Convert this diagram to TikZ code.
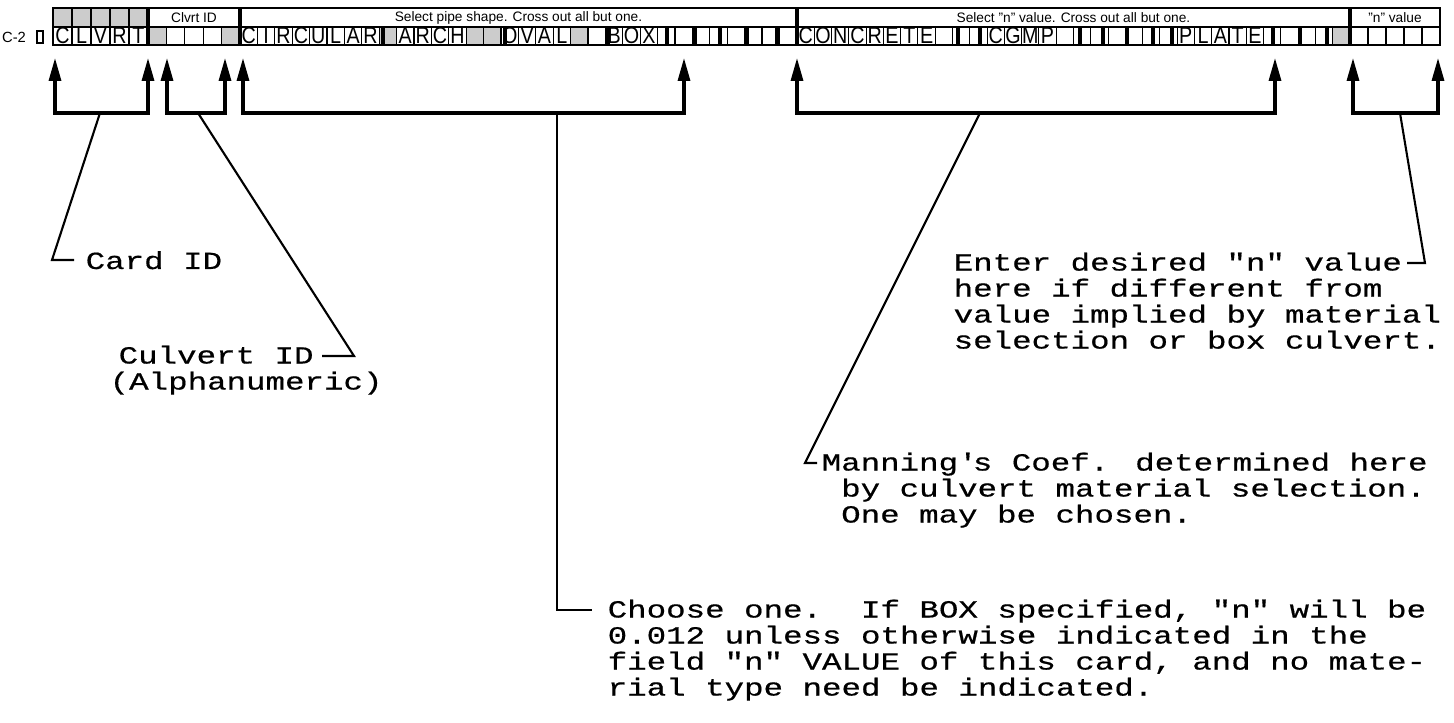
\documentclass[tikz,border=0pt]{standalone}
\usepackage{fontspec}
\setsansfont{Liberation Sans}
\newfontfamily\twfont{Liberation Mono}[FakeStretch=1.32, FakeBold=0.6]
\newfontfamily\punchfont{Liberation Sans}[FakeStretch=0.85]
\usetikzlibrary{arrows.meta}

\begin{document}
\begin{tikzpicture}[
  cardedge/.style={line width=0.8pt},
  cellline/.style={line width=0.3pt},
  fieldline/.style={line width=0.9pt},
  shade/.style={fill=gray!40, draw=none},
  head/.style={font=\sffamily\fontsize{3.9}{4}\selectfont, inner sep=0pt},
  cellch/.style={font=\punchfont\fontsize{6.6}{6.6}\selectfont, inner sep=0pt},
  brk/.style={{Triangle[length=6.5pt,width=3.4pt]}-{Triangle[length=6.5pt,width=3.4pt]},
              line width=0.9pt},
  lead/.style={line width=0.6pt},
  txt/.style={font=\twfont\fontsize{7}{7.4}\selectfont, align=left, inner sep=0pt}
]
  \useasboundingbox (0,0) rectangle (14.54,-7.23);

  % Card: shaded cells
  \foreach \i in {0,...,4}
    \fill[shade] ({0.53+0.19*\i},-0.08) rectangle ++(0.19,-0.19);
  \foreach \x in {1.48,2.216}
    \fill[shade] (\x,-0.27) rectangle ++(0.184,-0.18);
  \foreach \i in {8,13,14,19}
    \fill[shade] ({2.40+0.174*\i},-0.27) rectangle ++(0.174,-0.18);
  \fill[shade] ({7.97+0.1728*31},-0.27) rectangle ++(0.1728,-0.18);

  % Card: cell lines
  \draw[cellline] (0.53,-0.27) -- (14.40,-0.27);
  \foreach \i in {1,...,4}
    \draw[cellline] ({0.53+0.19*\i},-0.08) -- ++(0,-0.37);
  \foreach \i in {1,...,4}
    \draw[cellline] ({1.48+0.184*\i},-0.27) -- ++(0,-0.18);
  \foreach \i in {1,...,31}
    \draw[cellline] ({2.40+0.174*\i},-0.27) -- ++(0,-0.18);
  \foreach \i in {1,...,31}
    \draw[cellline] ({7.97+0.1728*\i},-0.27) -- ++(0,-0.18);
  \foreach \i in {1,...,4}
    \draw[cellline] ({13.50+0.18*\i},-0.27) -- ++(0,-0.18);
  \foreach \x in {3.83,5.05,6.08,6.67,6.95,7.20,7.47,7.77,9.58,9.80,
                  10.80,11.03,11.27,11.53,11.72,12.73,13.00,13.27}
    \draw[fieldline] (\x,-0.27) -- ++(0,-0.18);
  \foreach \x in {1.48,2.40,7.97,13.50}
    \draw[fieldline] (\x,-0.08) -- ++(0,-0.37);
  \draw[cardedge] (0.53,-0.08) rectangle (14.40,-0.45);

  % Card: headings
  \node[head] (hcvt) at (1.94,-0.175) {Clvrt ID};
  \node[head] (hshp) at (5.185,-0.175) {Select pipe shape. Cross out all but one.};
  \node[head] (hmat) at (10.735,-0.175) {Select "n" value. Cross out all but one.};
  \node[head] (hnv)  at (13.95,-0.175) {"n" value};
  \node[head, font=\sffamily\fontsize{4.2}{4.5}\selectfont] (cno) at (0.14,-0.37) {C-2};
  \draw[cellline] (0.37,-0.31) rectangle (0.43,-0.43);

  % Card: punched letters
  \foreach \ch [count=\k from 0] in {C,L,V,R,T}
    \node[cellch] (cid\k) at ({0.53+0.19*(\k+0.5)},-0.36) {\ch};
  \foreach \ch [count=\k from 0] in {C,I,R,C,U,L,A,R}
    \node[cellch] (shp\k) at ({2.40+0.174*(\k+0.5)},-0.36) {\ch};
  \foreach \ch [count=\k from 9] in {A,R,C,H}
    \node[cellch] (shp\k) at ({2.40+0.174*(\k+0.5)},-0.36) {\ch};
  \foreach \ch [count=\k from 15] in {O,V,A,L}
    \node[cellch] (shp\k) at ({2.40+0.174*(\k+0.5)},-0.36) {\ch};
  \foreach \ch [count=\k from 21] in {B,O,X}
    \node[cellch] (shp\k) at ({2.40+0.174*(\k+0.5)},-0.36) {\ch};
  \foreach \ch [count=\k from 0] in {C,O,N,C,R,E,T,E}
    \node[cellch] (mat\k) at ({7.97+0.1728*(\k+0.5)},-0.36) {\ch};
  \foreach \ch [count=\k from 11] in {C,G,M,P}
    \node[cellch] (mat\k) at ({7.97+0.1728*(\k+0.5)},-0.36) {\ch};
  \foreach \ch [count=\k from 22] in {P,L,A,T,E}
    \node[cellch] (mat\k) at ({7.97+0.1728*(\k+0.5)},-0.36) {\ch};

  % Bracket ends
  \coordinate (cid-l) at (0.55,-0.58);  \coordinate (cid-r) at (1.48,-0.58);
  \coordinate (cvt-l) at (1.67,-0.58);  \coordinate (cvt-r) at (2.25,-0.58);
  \coordinate (shp-l) at (2.43,-0.58);  \coordinate (shp-r) at (6.84,-0.58);
  \coordinate (mat-l) at (7.97,-0.58);  \coordinate (mat-r) at (12.75,-0.58);
  \coordinate (nv-l)  at (13.53,-0.58); \coordinate (nv-r)  at (14.38,-0.58);
  \coordinate (cid-m) at (1.00,-1.13);
  \coordinate (cvt-m) at (1.98,-1.13);
  \coordinate (shp-m) at (5.57,-1.13);
  \coordinate (mat-m) at (9.80,-1.13);
  \coordinate (nv-m)  at (14.00,-1.13);

  % Brackets
  \draw[brk] (cid-l) |- (cid-m) -| (cid-r);
  \draw[brk] (cvt-l) |- (cvt-m) -| (cvt-r);
  \draw[brk] (shp-l) |- (shp-m) -| (shp-r);
  \draw[brk] (mat-l) |- (mat-m) -| (mat-r);
  \draw[brk] (nv-l)  |- (nv-m)  -| (nv-r);

  % Notes
  \node[txt, anchor=base west] (cardid) at (0.85,-2.69) {Card ID};
  \node[txt, anchor=north west] (culvid) at (1.09,-3.45)
    {\hspace*{0.09cm}Culvert ID\\(Alphanumeric)};
  \node[txt, anchor=north west] (nvalue) at (9.53,-2.52)
    {Enter desired "n" value\\here if different from\\value implied by material\\selection or box culvert.};
  \node[txt, anchor=north west] (manning) at (8.21,-4.52)
    {Manning\textquotesingle s Coef. determined here\\\hphantom{M}by culvert material selection.\\\hphantom{M}One may be chosen.};
  \node[txt, anchor=north west] (choose) at (6.07,-5.99)
    {Choose one.\ \ If BOX specified, "n" will be\\0.012 unless otherwise indicated in the\\field "n" VALUE of this card, and no mate-\\rial type need be indicated.};

  % Leaders
  \coordinate (cid-e) at (0.74,-2.60);
  \coordinate (cvt-e) at (3.22,-3.56);
  \coordinate (shp-e) at (5.92,-6.10);
  \coordinate (mat-e) at (8.17,-4.63);
  \coordinate (nv-e)  at (14.07,-2.63);
  \draw[lead] (cid-m) -- (0.52,-2.60) -- (cid-e);
  \draw[lead] (cvt-m) -- (3.54,-3.56) -- (cvt-e);
  \draw[lead] (shp-m) -- (5.57,-6.10) -- (shp-e);
  \draw[lead] (mat-m) -- (8.05,-4.63) -- (mat-e);
  \draw[lead] (nv-m)  -- (14.25,-2.63) -- (nv-e);
\end{tikzpicture}
\end{document}
